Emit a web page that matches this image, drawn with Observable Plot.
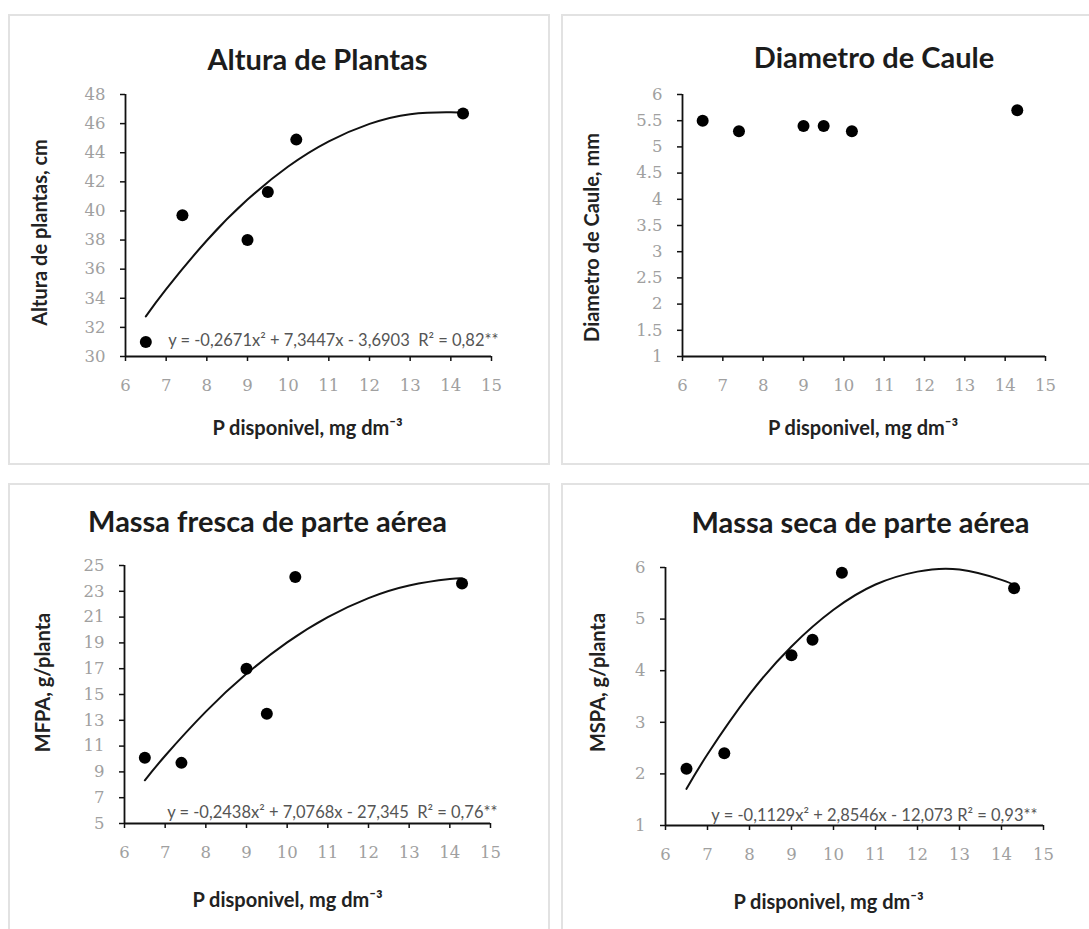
<!DOCTYPE html>
<html>
<head>
<meta charset="utf-8">
<script src="https://cdn.jsdelivr.net/npm/d3@7"></script>
<script src="https://cdn.jsdelivr.net/npm/@observablehq/plot@0.6"></script>
<style>
  html, body { margin: 0; padding: 0; background: #fff; }
  #page { position: relative; width: 1089px; height: 929px; overflow: hidden; background: #fff; }
  .frame { position: absolute; box-sizing: border-box; border: 2px solid #e2e2e2; }
  .plotwrap { position: absolute; }
  .plotwrap svg { display: block; overflow: visible; }
</style>
</head>
<body>
<div id="page"></div>
<script>
// ---- data ----
const pDisponivel = [6.5, 7.4, 9.0, 9.5, 10.2, 14.3];
const alturaValues = [31.0, 39.7, 38.0, 41.3, 44.9, 46.7];
const diametroValues = [5.5, 5.3, 5.4, 5.4, 5.3, 5.7];
const mfpaValues = [10.1, 9.7, 17.0, 13.5, 24.1, 23.6];
const mspaValues = [2.1, 2.4, 4.3, 4.6, 5.9, 5.6];

// trend curves
const curveX = [6.5, 7, 8, 9, 10, 11, 12, 13, 14, 14.3];
const alturaCurve = [32.76, 34.63, 37.97, 40.78, 43.05, 44.78, 45.98, 46.65, 46.78, 46.72];
const mfpaCurve = [8.35, 10.25, 13.67, 16.60, 19.04, 21.00, 22.47, 23.45, 23.95, 24.00];
const mspaCurve = [1.71, 2.38, 3.54, 4.47, 5.18, 5.67, 5.92, 5.96, 5.76, 5.66];

// ticks
const xTicks = [6, 7, 8, 9, 10, 11, 12, 13, 14, 15];
const alturaTicks = [30, 32, 34, 36, 38, 40, 42, 44, 46, 48];
const diametroTicks = [1, 1.5, 2, 2.5, 3, 3.5, 4, 4.5, 5, 5.5, 6];
const mfpaTicks = [5, 7, 9, 11, 13, 15, 17, 19, 21, 23, 25];
const mspaTicks = [1, 2, 3, 4, 5, 6];

// texts
const titles = ["Altura de Plantas", "Diametro de Caule", "Massa fresca de parte aérea", "Massa seca de parte aérea"];
const yLabels = ["Altura de plantas, cm", "Diametro de Caule, mm", "MFPA, g/planta", "MSPA, g/planta"];
const xLabel = "P disponivel, mg dm⁻³";
const equations = [
  "y = -0,2671x² + 7,3447x - 3,6903  R² = 0,82**",
  null,
  "y = -0,2438x² + 7,0768x - 27,345  R² = 0,76**",
  "y = -0,1129x² + 2,8546x - 12,073 R² = 0,93**"
];

const page = document.getElementById("page");
const SANS = "Lato, 'Open Sans', sans-serif";
const SERIF = "'DejaVu Serif', 'Liberation Serif', serif";
const TICKGRAY = "#a0a0a0";

function panel(cfg) {
  const fr = document.createElement("div");
  fr.className = "frame";
  Object.assign(fr.style, {left: cfg.left + "px", top: cfg.top + "px", width: cfg.fw + "px", height: cfg.fh + "px"});
  page.appendChild(fr);

  const pts = pDisponivel.map((x, i) => ({x, y: cfg.values[i]}));
  const curve = cfg.curve ? curveX.map((x, i) => ({x, y: cfg.curve[i]})) : [];
  const ymin = cfg.yDomain[0];

  const marks = [
    Plot.axisY({ticks: cfg.yTicks, tickSize: 5, stroke: "#111", label: null, tickFormat: () => "", strokeWidth: 1.5}),
    Plot.axisX({ticks: xTicks, tickSize: 5, stroke: "#111", label: null, tickFormat: () => "", strokeWidth: 1.5}),
    Plot.text(cfg.yTicks, {x: 6, y: d => d, text: d => String(d), dx: -20, textAnchor: "end", lineAnchor: "middle",
      fontFamily: SERIF, fontSize: 16.5, fill: TICKGRAY}),
    Plot.text(xTicks, {x: d => d, y: ymin, text: d => String(d), dy: 23, lineAnchor: "top",
      fontFamily: SERIF, fontSize: 16.5, fill: TICKGRAY}),
    Plot.ruleX([6], {y1: cfg.yDomain[0], y2: cfg.yDomain[1], stroke: "#111", strokeWidth: 1.8}),
    Plot.ruleY([ymin], {x1: 6, x2: 15, stroke: "#111", strokeWidth: 1.8}),
  ];
  if (cfg.curve) marks.push(Plot.line(curve, {x: "x", y: "y", curve: "natural", stroke: "#111", strokeWidth: 2}));
  marks.push(Plot.dot(pts, {x: "x", y: "y", r: 6, fill: "#000", stroke: "none"}));
  marks.push(Plot.text([cfg.title], {frameAnchor: "top", dx: cfg.titleDx, dy: cfg.titleDy, lineAnchor: "middle",
    fontSize: 29, fontWeight: "bold", fontFamily: SANS, fill: "#1c1c1c"}));
  marks.push(Plot.text([cfg.yLabel], {frameAnchor: "left", rotate: -90, dx: cfg.yLabDx, dy: cfg.yLabDy, lineAnchor: "middle",
    textAnchor: "middle", fontSize: 20, fontWeight: "bold", fontFamily: SANS, fill: "#222"}));
  marks.push(Plot.text([xLabel], {frameAnchor: "bottom", dx: cfg.xLabDx, dy: cfg.xLabDy, lineAnchor: "middle",
    fontSize: 20, fontWeight: "bold", fontFamily: SANS, fill: "#222"}));
  if (cfg.eq) marks.push(Plot.text([cfg.eq], {frameAnchor: "bottom-right", textAnchor: "end", dx: cfg.eqDx, dy: cfg.eqDy,
    lineAnchor: "middle", fontSize: 16.5, fontFamily: SANS, fill: "#555"}));

  const svg = Plot.plot({
    width: cfg.sw, height: cfg.sh,
    marginLeft: cfg.ml, marginRight: cfg.mr, marginTop: cfg.mt, marginBottom: cfg.mb,
    x: {domain: [6, 15], axis: null},
    y: {domain: cfg.yDomain, axis: null},
    style: {background: "transparent", fontFamily: SANS, overflow: "visible"},
    marks
  });
  const wrap = document.createElement("div");
  wrap.className = "plotwrap";
  Object.assign(wrap.style, {left: cfg.left + "px", top: cfg.top + "px"});
  wrap.appendChild(svg);
  page.appendChild(wrap);
}

panel({left: 8, top: 14, fw: 542, fh: 451, sw: 542, sh: 451, ml: 117, mr: 59, mt: 80, mb: 109,
  values: alturaValues, curve: alturaCurve, yDomain: [30, 48], yTicks: alturaTicks,
  title: titles[0], titleDx: 9, titleDy: -34, yLabel: yLabels[0], yLabDx: -85, yLabDy: 7,
  xLabDx: -1, xLabDy: 72, eq: equations[0], eqDx: 7, eqDy: -16});

panel({left: 561, top: 14, fw: 540, fh: 451, sw: 528, sh: 451, ml: 121, mr: 44, mt: 80, mb: 109,
  values: diametroValues, curve: null, yDomain: [1, 6], yTicks: diametroTicks,
  title: titles[1], titleDx: 10, titleDy: -36, yLabel: yLabels[1], yLabDx: -90, yLabDy: 12,
  xLabDx: -1, xLabDy: 72, eq: null});

panel({left: 8, top: 483, fw: 542, fh: 470, sw: 542, sh: 446, ml: 116, mr: 60, mt: 82, mb: 106,
  values: mfpaValues, curve: mfpaCurve, yDomain: [5, 25], yTicks: mfpaTicks,
  title: titles[2], titleDx: -40, titleDy: -43, yLabel: yLabels[2], yLabDx: -81, yLabDy: -12,
  xLabDx: -20, xLabDy: 77, eq: equations[2], eqDx: 7, eqDy: -11});

panel({left: 561, top: 483, fw: 540, fh: 470, sw: 528, sh: 446, ml: 104, mr: 46, mt: 84, mb: 104,
  values: mspaValues, curve: mspaCurve, yDomain: [1, 6], yTicks: mspaTicks,
  title: titles[3], titleDx: 6, titleDy: -44, yLabel: yLabels[3], yLabDx: -67, yLabDy: -14,
  xLabDx: -26, xLabDy: 77, eq: equations[3], eqDx: -6, eqDy: -10});
</script>
</body>
</html>
